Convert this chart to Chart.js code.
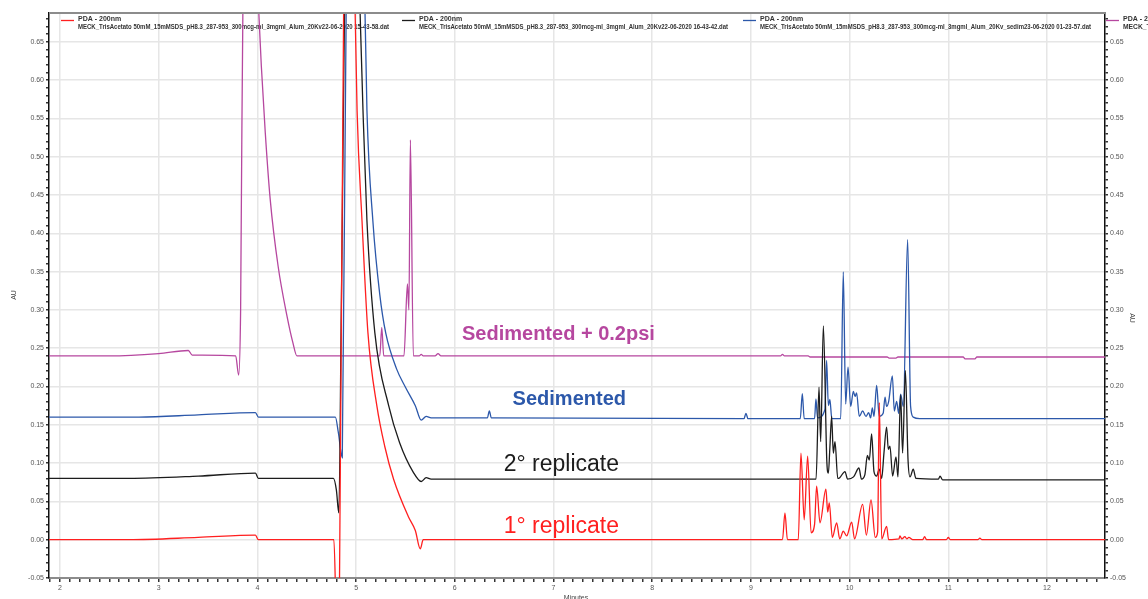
<!DOCTYPE html>
<html>
<head>
<meta charset="utf-8">
<script src="https://cdn.jsdelivr.net/npm/chart.js@4"></script>
<style>
  html, body { margin: 0; padding: 0; background: #fff; }
  #grafico { display: block; }
</style>
</head>
<body>
<canvas id="grafico" width="1148" height="599"></canvas>
<script>
// Electroferogramas PDA 200 nm (minutos vs AU)

// 1° replicate
const tRep1 = [1.85, 2.70, 3.40, 3.98, 4.01, 4.775, 4.805, 4.83, 4.88, 4.95, 4.99, 5.01, 5.06, 5.12, 5.21, 5.29, 5.38, 5.53, 5.60, 5.65, 5.68, 5.75,
  9.32, 9.345, 9.37, 9.48, 9.507, 9.54, 9.575, 9.61, 9.645, 9.666, 9.70, 9.76, 9.778, 9.794, 9.825, 9.869, 9.90, 9.936, 9.97, 10.021, 10.05,
  10.132, 10.17, 10.217, 10.26, 10.284, 10.301, 10.325, 10.375, 10.395, 10.50, 10.51, 10.53, 10.56, 10.58, 10.60, 10.64, 10.74, 10.76, 10.78,
  10.98, 11.0, 11.02, 11.30, 11.32, 11.34, 12.65];
const auRep1 = [0, 0, 0.003, 0.006, 0, 0, -0.12, -0.09, 0.80, 0.85, 0.69, 0.56, 0.416, 0.27, 0.175, 0.122, 0.079, 0.030, 0.012, -0.012, 0, 0,
  0, 0.035, 0, 0, 0.113, 0.026, 0.109, 0.009, 0.02, 0.070, 0.022, 0.066, 0.036, 0.048, 0.003, 0.022, 0.001, 0.011, 0.005, 0.023, 0.001,
  0.046, 0.006, 0.052, 0.003, 0.01, 0.179, 0.001, 0.0175, 0, 0.001, 0.005, 0.001, 0.004, 0.001, 0.003, 0, 0, 0.004, 0,
  0, 0.003, 0, 0, 0.002, 0, 0];

// 2° replicate
const tRep2 = [1.85, 2.70, 3.40, 3.98, 4.01, 4.77, 4.80, 4.825, 4.85, 4.90, 5.00, 5.04, 5.07, 5.11, 5.19, 5.33, 5.44, 5.58, 5.66, 5.71, 5.76,
  9.66, 9.69, 9.707, 9.734, 9.77, 9.785, 9.80, 9.818, 9.835, 9.852, 9.88, 9.90, 9.953, 9.98, 10.04, 10.095, 10.12, 10.155, 10.18, 10.20,
  10.223, 10.247, 10.274, 10.30, 10.325, 10.348, 10.375, 10.392, 10.409, 10.436, 10.47, 10.49, 10.517, 10.537, 10.565, 10.592, 10.612,
  10.645, 10.672, 10.90, 10.916, 10.943, 12.65];
const auRep2 = [0.08, 0.08, 0.083, 0.087, 0.08, 0.08, 0.065, 0.035, 0.30, 0.80, 0.85, 0.69, 0.56, 0.416, 0.27, 0.175, 0.127, 0.088, 0.076, 0.081, 0.079,
  0.079, 0.199, 0.128, 0.279, 0.10, 0.087, 0.12, 0.161, 0.113, 0.128, 0.08, 0.081, 0.089, 0.079, 0.082, 0.0936, 0.079, 0.085, 0.11, 0.104,
  0.138, 0.089, 0.083, 0.092, 0.08, 0.113, 0.147, 0.118, 0.122, 0.083, 0.108, 0.082, 0.189, 0.113, 0.221, 0.104, 0.082,
  0.092, 0.08, 0.079, 0.083, 0.078, 0.078];

// Sedimented
const tSed = [1.85, 2.80, 3.40, 3.98, 4.01, 4.79, 4.82, 4.86, 4.90, 5.00, 5.09, 5.11, 5.17, 5.24, 5.30, 5.41, 5.50, 5.60, 5.66, 5.71, 5.76,
  6.33, 6.35, 6.37, 8.93, 8.95, 8.97,
  9.50, 9.521, 9.54, 9.645, 9.659, 9.675, 9.75, 9.767, 9.785, 9.80, 9.82, 9.91, 9.936, 9.96, 9.984, 10.011, 10.038, 10.055, 10.071, 10.098,
  10.132, 10.166, 10.193, 10.213, 10.23, 10.247, 10.274, 10.30, 10.34, 10.359, 10.375, 10.396, 10.433, 10.453, 10.477, 10.497, 10.517,
  10.544, 10.588, 10.618, 10.645, 10.71, 12.65];
const auSed = [0.16, 0.16, 0.163, 0.166, 0.16, 0.16, 0.14, 0.107, 0.70, 0.85, 0.69, 0.56, 0.416, 0.32, 0.27, 0.223, 0.199, 0.175, 0.156, 0.161, 0.159,
  0.159, 0.168, 0.159, 0.158, 0.165, 0.158,
  0.158, 0.1906, 0.158, 0.158, 0.1837, 0.159, 0.17, 0.234, 0.175, 0.183, 0.158, 0.158, 0.3495, 0.177, 0.2254, 0.174, 0.1937, 0.187, 0.1915, 0.161,
  0.168, 0.161, 0.166, 0.159, 0.172, 0.161, 0.2015, 0.161, 0.165, 0.186, 0.174, 0.1806, 0.214, 0.168, 0.1806, 0.165, 0.19,
  0.174, 0.3917, 0.174, 0.16, 0.158, 0.158];

// Sedimented + 0.2psi
const tPsi = [1.85, 2.50, 3.00, 3.30, 3.34, 3.78, 3.81, 3.83, 3.86, 3.95, 4.01, 4.04, 4.08, 4.13, 4.21, 4.30, 4.36, 4.40,
  5.24, 5.26, 5.28, 5.485, 5.52, 5.535, 5.55, 5.58, 5.64, 5.66, 5.68, 5.80, 5.83, 5.86,
  9.30, 9.32, 9.34, 9.58, 9.60, 10.38, 10.40, 10.47, 10.49, 11.15, 11.17, 11.27, 11.29, 12.65];
const auPsi = [0.24, 0.24, 0.243, 0.247, 0.241, 0.240, 0.215, 0.30, 0.80, 0.85, 0.70, 0.618, 0.531, 0.444, 0.357, 0.292, 0.257, 0.240,
  0.240, 0.277, 0.240, 0.240, 0.334, 0.30, 0.522, 0.240, 0.240, 0.242, 0.240, 0.240, 0.243, 0.240,
  0.240, 0.242, 0.240, 0.240, 0.2385, 0.2385, 0.237, 0.237, 0.2385, 0.2385, 0.236, 0.236, 0.2385, 0.2385];

// Nombres de archivo de la leyenda
const archivos = [
  "MECK_TrisAcetato 50mM_15mMSDS_pH8.3_287-953_300mcg-ml_3mgml_Alum_20Kv22-06-2020 15-43-58.dat",
  "MECK_TrisAcetato 50mM_15mMSDS_pH8.3_287-953_300mcg-ml_3mgml_Alum_20Kv22-06-2020 16-43-42.dat",
  "MECK_TrisAcetato 50mM_15mMSDS_pH8.3_287-953_300mcg-ml_3mgml_Alum_20Kv_sedim23-06-2020 01-23-57.dat",
  "MECK_TrisAcetato 50mM_15mMSDS_pH8.3_287-953_300mcg-ml_3mgml_Alum_20Kv_sedim_0.2psi.dat"
];
const etiquetas = ["1° replicate", "2° replicate", "Sedimented", "Sedimented + 0.2psi"];

const ROJO = "#ff1f1f", NEGRO = "#1c1c1c", AZUL = "#2c58aa", MAGENTA = "#b6479f";
const FUENTE = "'Liberation Sans', Arial, sans-serif";

const puntos = (t, au) => t.map((x, i) => ({ x: x, y: au[i] }));
const esMultiplo = (v, paso) => Math.abs(v / paso - Math.round(v / paso)) < 1e-6;

function serie(label, t, au, color) {
  return {
    label: label,
    data: puntos(t, au),
    borderColor: color,
    backgroundColor: color,
    borderWidth: 1.3,
    pointRadius: 0,
    showLine: true,
    fill: false,
    cubicInterpolationMode: 'monotone'
  };
}

// Leyenda, textos sobre las trazas y títulos de ejes
const decoraciones = {
  id: 'decoraciones',
  beforeDatasetsDraw(chart) {
    const ctx = chart.ctx;
    const entradas = [
      { x: 61, color: ROJO, ancho: 311, texto: archivos[0] },
      { x: 402, color: NEGRO, ancho: 309, texto: archivos[1] },
      { x: 743, color: AZUL, ancho: 331, texto: archivos[2] },
      { x: 1106, color: MAGENTA, ancho: 331, texto: archivos[3] }
    ];
    ctx.save();
    entradas.forEach(e => {
      ctx.strokeStyle = e.color;
      ctx.lineWidth = 1.3;
      ctx.beginPath();
      ctx.moveTo(e.x, 20.5);
      ctx.lineTo(e.x + 13, 20.5);
      ctx.stroke();
      ctx.fillStyle = '#333';
      ctx.font = "bold 7px " + FUENTE;
      ctx.textBaseline = 'middle';
      ctx.textAlign = 'left';
      ctx.fillText("PDA - 200nm", e.x + 17, 19);
      ctx.fillText(e.texto, e.x + 17, 27.5, e.ancho);
    });
    ctx.restore();
  },
  afterDraw(chart) {
    const ctx = chart.ctx;
    const area = chart.chartArea;
    const xs = chart.scales.x, ys = chart.scales.y;
    ctx.save();

    // marco superior
    ctx.strokeStyle = '#8c8c8c';
    ctx.lineWidth = 2;
    ctx.beginPath();
    ctx.moveTo(area.left, area.top);
    ctx.lineTo(area.right, area.top);
    ctx.stroke();

    // nombres de cada traza
    ctx.textAlign = 'center';
    ctx.textBaseline = 'middle';
    const textos = [
      { t: 7.05, v: 0.268, color: MAGENTA, font: "bold 20px " + FUENTE, s: etiquetas[3] },
      { t: 7.16, v: 0.183, color: AZUL, font: "bold 20px " + FUENTE, s: etiquetas[2] },
      { t: 7.08, v: 0.098, color: NEGRO, font: "23px " + FUENTE, s: etiquetas[1] },
      { t: 7.08, v: 0.017, color: ROJO, font: "23px " + FUENTE, s: etiquetas[0] }
    ];
    textos.forEach(a => {
      ctx.fillStyle = a.color;
      ctx.font = a.font;
      ctx.fillText(a.s, xs.getPixelForValue(a.t), ys.getPixelForValue(a.v));
    });

    // títulos de ejes
    ctx.fillStyle = '#444';
    ctx.font = "7px " + FUENTE;
    ctx.fillText("Minutes", 576, 598);
    ctx.translate(14, 295);
    ctx.rotate(-Math.PI / 2);
    ctx.fillText("AU", 0, 0);
    ctx.setTransform(1, 0, 0, 1, 0, 0);
    ctx.translate(1132, 318);
    ctx.rotate(Math.PI / 2);
    ctx.fillText("AU", 0, 0);
    ctx.restore();
  }
};

function ejeY(posicion, ancho, rejilla) {
  return {
    type: 'linear',
    position: posicion,
    min: -0.05,
    max: 0.6876,
    afterFit: s => { s.width = ancho; },
    border: { color: '#111', width: 1.5 },
    grid: {
      drawOnChartArea: rejilla,
      color: c => (c.tick && esMultiplo(c.tick.value, 0.05)) ? '#e6e6e6' : 'rgba(0,0,0,0)',
      lineWidth: 1.5,
      tickColor: '#333',
      tickLength: 3
    },
    ticks: {
      stepSize: 0.01,
      autoSkip: false,
      includeBounds: false,
      padding: 2,
      color: '#555',
      font: { size: 7, family: FUENTE },
      callback: v => esMultiplo(v, 0.05) ? v.toFixed(2) : ''
    }
  };
}

Chart.defaults.font.family = FUENTE;

new Chart(document.getElementById('grafico'), {
  type: 'scatter',
  data: {
    datasets: [
      serie(etiquetas[0], tRep1, auRep1, ROJO),
      serie(etiquetas[1], tRep2, auRep2, NEGRO),
      serie(etiquetas[2], tSed, auSed, AZUL),
      serie(etiquetas[3], tPsi, auPsi, MAGENTA)
    ]
  },
  options: {
    responsive: false,
    animation: false,
    layout: { padding: { top: 13, left: 0, right: 0, bottom: 0 } },
    plugins: {
      legend: { display: false },
      tooltip: { enabled: false }
    },
    scales: {
      x: {
        type: 'linear',
        position: 'bottom',
        min: 1.8886,
        max: 12.5876,
        afterFit: s => { s.height = 21; },
        border: { color: '#8c8c8c', width: 2 },
        grid: {
          color: c => (c.tick && esMultiplo(c.tick.value, 1)) ? '#e6e6e6' : 'rgba(0,0,0,0)',
          lineWidth: 1.5,
          tickColor: '#333',
          tickLength: 4
        },
        ticks: {
          stepSize: 0.1,
          autoSkip: false,
          includeBounds: false,
          maxRotation: 0,
          padding: 2,
          color: '#555',
          font: { size: 7, family: FUENTE },
          callback: v => esMultiplo(v, 1) ? String(Math.round(v)) : ''
        }
      },
      y: ejeY('left', 49, true),
      y2: ejeY('right', 43, false)
    }
  },
  plugins: [decoraciones]
});
</script>
</body>
</html>
